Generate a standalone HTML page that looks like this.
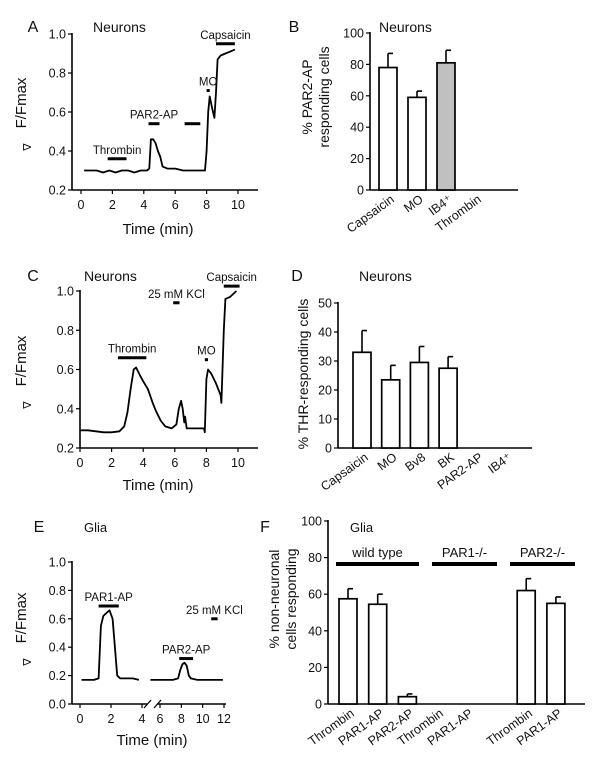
<!DOCTYPE html>
<html><head><meta charset="utf-8"><style>
html,body{margin:0;padding:0;background:#fff}
svg{display:block;font-family:"Liberation Sans",Arial,sans-serif}
</style></head><body>
<svg id="fig" width="600" height="768" viewBox="0 0 600 768"></svg>
<script>
// ---------- DATA ----------
const aTime=[0.2,0.6,1,1.4,1.8,2.2,2.6,3,3.4,3.8,4.2,4.35,4.45,4.6,4.75,4.9,5.05,5.2,5.5,6,6.5,7,7.5,7.9,8.0,8.1,8.2,8.35,8.5,8.6,8.7,8.9,9.2,9.5,9.8];
const aVal=[0.30,0.30,0.30,0.29,0.30,0.29,0.30,0.30,0.29,0.30,0.30,0.31,0.46,0.46,0.44,0.40,0.37,0.32,0.31,0.31,0.30,0.30,0.30,0.30,0.40,0.60,0.68,0.62,0.57,0.70,0.87,0.89,0.90,0.91,0.92];
const aBars=[[1.7,2.9,0.36,"Thrombin"],[4.3,5.0,0.54,"PAR2-AP"],[6.6,7.6,0.54,""],[8.0,8.2,0.71,"MO"],[8.6,9.8,0.95,"Capsaicin"]];
const cTime=[0,0.5,1,1.5,2,2.5,2.8,3.0,3.2,3.4,3.55,3.8,4.0,4.3,4.6,4.8,5.1,5.4,5.8,6.1,6.25,6.4,6.5,6.6,6.65,6.75,7,7.5,7.85,7.9,8.0,8.1,8.3,8.6,8.9,8.95,9.1,9.2,9.5,9.9];
const cVal=[0.29,0.29,0.285,0.28,0.28,0.285,0.31,0.38,0.50,0.60,0.61,0.57,0.54,0.50,0.43,0.39,0.34,0.31,0.30,0.32,0.40,0.44,0.40,0.33,0.36,0.30,0.30,0.30,0.30,0.28,0.55,0.60,0.58,0.53,0.47,0.43,0.80,0.96,0.97,1.00];
const cBars=[[2.4,4.2,0.66,"Thrombin"],[5.9,6.3,0.94,"25 mM KCl"],[7.9,8.1,0.65,"MO"],[9.1,10.1,1.025,"Capsaicin"]];
const e1Time=[0.1,0.5,0.9,1.2,1.35,1.5,1.7,1.9,2.1,2.25,2.4,2.6,3,3.4,3.8];
const e1Val=[0.17,0.17,0.17,0.18,0.55,0.62,0.64,0.66,0.60,0.40,0.20,0.18,0.18,0.18,0.17];
const e2Time=[5.1,5.8,6.5,7.2,7.7,7.9,8.1,8.3,8.5,8.7,8.9,9.5,10.2,11,11.9];
const e2Val=[0.17,0.17,0.17,0.17,0.18,0.24,0.28,0.29,0.27,0.20,0.18,0.17,0.17,0.17,0.17];
const eBars=[[1.2,2.5,0.69,"PAR1-AP"],[7.8,9.1,0.32,"PAR2-AP"],[10.8,11.4,0.60,"25 mM KCl"]];
const bCats=["Capsaicin","MO","IB4\u207A","Thrombin"];
const bVals=[78,59,81,0];
const bErrs=[87,63,89,0];
const dCats=["Capsaicin","MO","Bv8","BK","PAR2-AP","IB4\u207A"];
const dVals=[33,23.5,29.5,27.5,0,0];
const dErrs=[40.5,28.5,35,31.5,0,0];
const fCats=["Thrombin","PAR1-AP","PAR2-AP","Thrombin","PAR1-AP","Thrombin","PAR1-AP"];
const fVals=[57.5,54.5,4,0,0,62,55];
const fErrs=[63,60,5.5,0,0,68.5,58.5];
const fSlot=[0,1,2,3,4,6,7];
const fGroups=["wild type","PAR1-/-","PAR2-/-"];

// ---------- DRAW ----------
const S=document.getElementById('fig');const NS='http://www.w3.org/2000/svg';
function mk(tag,at,txt){const e=document.createElementNS(NS,tag);for(const k in at)e.setAttribute(k,at[k]);if(txt!==undefined)e.textContent=txt;S.appendChild(e);return e;}
function line(x1,y1,x2,y2,w,name){const e=mk('line',{x1,y1,x2,y2,stroke:'#000','stroke-width':w||1.5});

return e;}
function text(x,y,s,size,anchor,name,extra){const at={x,y,'font-size':size,'text-anchor':anchor||'middle',fill:'#111'};if(extra)for(const k in extra)at[k]=extra[k];const e=mk('text',at,s);

return e;}
function lin(d0,d1,r0,r1){return v=>r0+(v-d0)/(d1-d0)*(r1-r0);}

function tracePanel(o){
  const X=o.X,Y=o.Y;
  line(o.ax,o.y0px,o.ax,o.y1px-1,1.6,'y-axis');
  if(o.xsegs){o.xsegs.forEach(sg=>line(sg[0],o.y0px,sg[1],o.y0px,1.6,'x-axis'));}
  else line(o.ax,o.y0px,o.axEnd,o.y0px,1.6,'x-axis');
  o.yt.forEach(v=>{line(o.ax-4,Y(v),o.ax,Y(v),1.2,'y-tick');text(o.ax-6,Y(v)+4.5,v.toFixed(1),12.5,'end','y-tick-label');});
  o.xt.forEach(v=>{const x=(o.XT||X)(v);line(x,o.y0px,x,o.y0px+4,1.2,'x-tick');text(x,o.y0px+19,String(v),12.5,'middle','x-tick-label');});
  text(o.tx,o.ty,'Time (min)',15,'middle','x-axis-title');
  text(o.fx,o.fy,'F/Fmax',15,'middle','y-axis-title',{transform:`rotate(-90 ${o.fx} ${o.fy})`});
  text(o.fx+2,o.fy+47,'\u2207',11,'middle','delta-symbol',{transform:`rotate(-90 ${o.fx+2} ${o.fy+44})`});
  o.traces.forEach(t=>{const pts=t[0].map((tt,i)=>X(tt).toFixed(1)+','+Y(t[1][i]).toFixed(1)).join(' ');
    const p=mk('polyline',{points:pts,fill:'none',stroke:'#000','stroke-width':1.8,'stroke-linejoin':'round'});
    
    });
  o.bars.forEach(b=>{line(X(b[0]),Y(b[2]),X(b[1]),Y(b[2]),3,'stimulus-bar');
    if(b[3])text((X(b[0])+X(b[1]))/2,Y(b[2])-5,b[3],11.5,'middle','stimulus-label');});
}
// A
{const X=lin(0,10,81,238),Y=lin(0.2,1.0,190,34);
tracePanel({X,Y,ax:72,axEnd:258,y0px:190,y1px:34,yt:[0.2,0.4,0.6,0.8,1.0],xt:[0,2,4,6,8,10],tx:158,ty:234,fx:26,fy:103,traces:[[aTime,aVal]],bars:aBars});}
// C
{const X=lin(0,10,80,238),Y=lin(0.2,1.0,448,291);
tracePanel({X,Y,ax:80,axEnd:258,y0px:448,y1px:291,yt:[0.2,0.4,0.6,0.8,1.0],xt:[0,2,4,6,8,10],tx:158,ty:490,fx:26,fy:361,traces:[[cTime,cVal]],bars:cBars});}
// E
{const XL=lin(0,4,80,142),XR=lin(6,12,160,224);const X=t=>t<5?XL(t):XR(t);const Y=lin(0,1.0,704,562);
tracePanel({X,Y,XT:X,ax:72,xsegs:[[72,147],[157,226]],y0px:704,y1px:562,yt:[0,0.2,0.4,0.6,0.8,1.0],xt:[0,2,4,6,8,10,12],tx:152,ty:745,fx:26,fy:618,traces:[[e1Time,e1Val],[e2Time,e2Val]],bars:eBars});
line(144,708,151,700,1.3,'axis-break');line(154,708,161,700,1.3,'axis-break');}

function barPanel(o){
  const Y=o.Y;
  line(o.ax,o.y0px,o.ax,o.y1px-1,1.6,'y-axis');
  line(o.ax,o.y0px,o.axEnd,o.y0px,1.6,'x-axis');
  o.yt.forEach(v=>{line(o.ax-4,Y(v),o.ax,Y(v),1.2,'y-tick');text(o.ax-6,Y(v)+4.5,String(v),12.5,'end','y-tick-label');});
  o.cats.forEach((c,i)=>{const cx=o.X(o.slot?o.slot[i]:i);
    if(o.vals[i]>0){
      line(cx,Y(o.vals[i]),cx,Y(o.errs[i]),1.6,'error-bar');
      line(cx,Y(o.errs[i]),cx+5,Y(o.errs[i]),1.6,'error-cap');
      const r=mk('rect',{x:cx-o.bw/2,y:Y(o.vals[i]),width:o.bw,height:Y(0)-Y(o.vals[i]),fill:(o.fills&&o.fills[i])||'#fff',stroke:'#000','stroke-width':1.7});
      
      }
    text(cx+7,o.y0px+11,c,12.5,'end','category-label',{transform:`rotate(-36 ${cx+7} ${o.y0px+11})`});
  });
}
// B
barPanel({X:lin(0,1,388,417),Y:lin(0,100,190,33),ax:370,axEnd:518,y0px:190,y1px:33,yt:[0,20,40,60,80,100],cats:bCats,vals:bVals,errs:bErrs,bw:18,fills:['#fff','#fff','#c0c0c0','#fff']});
text(312,97,'% PAR2-AP',14,'middle','y-axis-title-line1',{transform:'rotate(-90 312 97)'});
text(329,97,'responding cells',14,'middle','y-axis-title-line2',{transform:'rotate(-90 329 97)'});
// D
barPanel({X:lin(0,1,362,390.7),Y:lin(0,50,448,303),ax:338,axEnd:532,y0px:448,y1px:303,yt:[0,10,20,30,40,50],cats:dCats,vals:dVals,errs:dErrs,bw:18});
text(308,374,'% THR-responding cells',14,'middle','y-axis-title',{transform:'rotate(-90 308 374)'});
// F
barPanel({X:lin(0,1,348,377.7),Y:lin(0,100,704,521),ax:328,axEnd:585,y0px:704,y1px:521,yt:[0,20,40,60,80,100],cats:fCats,vals:fVals,errs:fErrs,slot:fSlot,bw:18});
text(279,599,'% non-neuronal',14,'middle','y-axis-title-line1',{transform:'rotate(-90 279 599)'});
text(296,599,'cells responding',14,'middle','y-axis-title-line2',{transform:'rotate(-90 296 599)'});
[[336,419],[432,497],[510,575]].forEach((g,i)=>{line(g[0],564,g[1],564,4,'group-bar');text((g[0]+g[1])/2,557,fGroups[i],13,'middle','group-label');});

// Panel letters and titles
[['A',33,32],['B',294,32],['C',33,281],['D',297,281],['E',39,532],['F',265,532]].forEach(p=>text(p[1],p[2],p[0],16,'middle','panel-letter-'+p[0].toLowerCase()));
text(93,32,'Neurons',14,'start','panel-title');
text(379,32,'Neurons',14,'start','panel-title');
text(84,281,'Neurons',14,'start','panel-title');
text(359,281,'Neurons',14,'start','panel-title');
text(84,532,'Glia',13,'start','panel-title');
text(350,532,'Glia',13,'start','panel-title');
</script>
</body></html>
